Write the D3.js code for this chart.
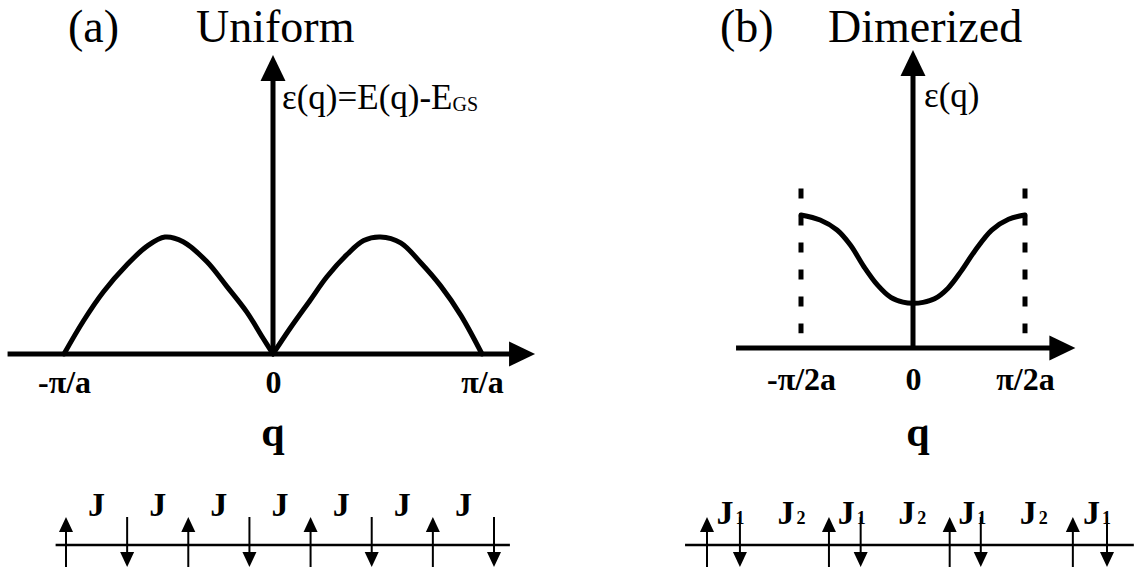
<!DOCTYPE html>
<html>
<head>
<meta charset="utf-8">
<script src="https://cdn.jsdelivr.net/npm/d3@7"></script>
<style>
  body { margin: 0; background: #fff; }
  svg { display: block; }
  text { font-family: "Liberation Serif", "Times New Roman", serif; fill: #000; }
</style>
</head>
<body>
<svg id="fig" width="1134" height="569"></svg>
<script>
// ---- (a) uniform chain: lower edge of the excitation spectrum, q in units of pi/a ----
const uniformQ = [-1, -0.908, -0.812, -0.70, -0.604, -0.517, -0.43, -0.317, -0.222, -0.126, -0.046, 0,
                  0.082, 0.178, 0.258, 0.354, 0.434, 0.514, 0.611, 0.707, 0.803, 0.899, 1];
const uniformE = [0, 0.28, 0.53, 0.76, 0.92, 1.0, 0.96, 0.79, 0.58, 0.36, 0.13, 0,
                  0.22, 0.46, 0.66, 0.85, 0.97, 1.0, 0.95, 0.78, 0.58, 0.33, 0];
const uniformTicks = [-1, 0, 1];
const uniformTickLabels = ["-\u03C0/a", "0", "\u03C0/a"];

// ---- (b) dimerized chain: gapped band, q in units of pi/2a ----
const dimerQ = [-1, -0.829, -0.678, -0.559, -0.438, -0.318, -0.198, -0.09, 0, 0.09, 0.192, 0.313, 0.432, 0.552, 0.703, 0.853, 1];
const dimerE = [1.0, 0.962, 0.887, 0.774, 0.611, 0.474, 0.38, 0.345, 0.336, 0.343, 0.37, 0.45, 0.58, 0.73, 0.887, 0.968, 1.0];
const dimerTicks = [-1, 0, 1];
const dimerTickLabels = ["-\u03C0/2a", "0", "\u03C0/2a"];
const zoneEdges = [-1, 1];

// ---- spin chains (site positions in units of a, spin +1 up / -1 down) ----
const uniformSites = [0, 1, 2, 3, 4, 5, 6, 7];
const uniformSpins = [1, -1, 1, -1, 1, -1, 1, -1];
const uniformBonds = ["", "", "", "", "", "", ""];
const dimerSites = [0, 0.54, 2.0, 2.52, 3.98, 4.49, 6.0, 6.56];
const dimerSpins = [1, -1, 1, -1, 1, -1, 1, -1];
const dimerBonds = ["1", "2", "1", "2", "1", "2", "1"];

const svg = d3.select("#fig");

// ---------- helpers ----------
function arrowHead(g, tipX, tipY, dir, len, half) {
  let p;
  if (dir === "up") p = [[tipX, tipY], [tipX - half, tipY + len], [tipX + half, tipY + len]];
  else if (dir === "down") p = [[tipX, tipY], [tipX - half, tipY - len], [tipX + half, tipY - len]];
  else p = [[tipX, tipY], [tipX - len, tipY - half], [tipX - len, tipY + half]];
  g.append("path").attr("d", d3.line()(p) + "Z").attr("fill", "#000");
}

// split a curve into smooth pieces at interior zeros (cusps)
function splitAtCusps(pts) {
  const pieces = [];
  let cur = [pts[0]];
  for (let i = 1; i < pts.length; i++) {
    cur.push(pts[i]);
    if (pts[i][1] === 0 && i < pts.length - 1) { pieces.push(cur); cur = [pts[i]]; }
  }
  if (cur.length > 1) pieces.push(cur);
  return pieces;
}

function dispersionPanel(opts) {
  const g = svg.append("g");
  const x = d3.scaleLinear().domain([-1, 1]).range(opts.xRange);
  const y = d3.scaleLinear().domain([0, 1]).range(opts.yRange);

  // horizontal axis with arrow
  const x0 = x(opts.xExtent[0]), x1 = x(opts.xExtent[1]);
  g.append("line").attr("x1", x0).attr("x2", x1 - 20).attr("y1", y(0)).attr("y2", y(0))
    .attr("stroke", "#000").attr("stroke-width", 5);
  arrowHead(g, x1, y(0), "right", 26, 12.5);

  // vertical axis with arrow
  const yTop = y(opts.yTop);
  g.append("line").attr("x1", x(0)).attr("x2", x(0)).attr("y1", y(0)).attr("y2", yTop + 20)
    .attr("stroke", "#000").attr("stroke-width", 5);
  arrowHead(g, x(0), yTop, "up", 26, 12.5);

  // zone boundary markers
  if (opts.edges) {
    g.selectAll("line.edge").data(opts.edges).join("line")
      .attr("class", "edge")
      .attr("x1", d => x(d)).attr("x2", d => x(d))
      .attr("y1", y(opts.edgeSpan[1])).attr("y2", y(opts.edgeSpan[0]))
      .attr("stroke", "#000").attr("stroke-width", 5)
      .attr("stroke-dasharray", "10 17");
  }

  // dispersion curve
  const pts = opts.q.map((q, i) => [q, opts.e[i]]);
  const line = d3.line().x(d => x(d[0])).y(d => y(d[1])).curve(d3.curveCatmullRom.alpha(0.5));
  g.selectAll("path.disp").data(splitAtCusps(pts)).join("path")
    .attr("class", "disp")
    .attr("d", line)
    .attr("fill", "none").attr("stroke", "#000").attr("stroke-width", 5)
    .attr("stroke-linejoin", "round").attr("stroke-linecap", "round");

  // tick labels
  const axis = d3.axisBottom(x).tickValues(opts.ticks)
    .tickFormat((d, i) => opts.tickLabels[i]).tickSize(0).tickPadding(opts.tickPad);
  const ag = g.append("g").attr("transform", `translate(0,${y(0)})`).call(axis);
  ag.select(".domain").remove();
  ag.selectAll("text")
    .attr("font-family", '"Liberation Serif", "Times New Roman", serif')
    .attr("font-size", 32).attr("font-weight", "bold").attr("fill", "#000");

  // q label
  g.append("text").attr("x", opts.qLabelX).attr("y", 446)
    .attr("text-anchor", "middle").attr("font-size", 42).attr("font-weight", "bold").text("q");

  // titles
  g.append("text").attr("x", opts.tagX).attr("y", 42).attr("font-size", 46).text(opts.tag);
  g.append("text").attr("x", opts.titleX).attr("y", 42).attr("font-size", 46).text(opts.title);

  return { g, x, y };
}

// ---------- (a) Uniform ----------
const A = dispersionPanel({
  xRange: [64, 482], yRange: [354, 237], xExtent: [-1.27, 1.254], yTop: 2.556,
  q: uniformQ, e: uniformE, ticks: uniformTicks, tickLabels: uniformTickLabels, tickPad: 16,
  qLabelX: 273, tag: "(a)", tagX: 68, title: "Uniform", titleX: 196
});
const yLabA = A.g.append("text").attr("x", 282).attr("y", 109).attr("font-size", 35);
yLabA.append("tspan").text("\u03B5(q)=E(q)-E");
yLabA.append("tspan").attr("font-size", 20).attr("dy", 2).text("GS");

// ---------- (b) Dimerized ----------
const B = dispersionPanel({
  xRange: [801, 1025], yRange: [348, 215], xExtent: [-1.58, 1.45], yTop: 2.24,
  q: dimerQ, e: dimerE, ticks: dimerTicks, tickLabels: dimerTickLabels, tickPad: 19,
  edges: zoneEdges, edgeSpan: [0.11, 1.2],
  qLabelX: 918, tag: "(b)", tagX: 720, title: "Dimerized", titleX: 828
});
B.g.append("text").attr("x", 924).attr("y", 107).attr("font-size", 35).text("\u03B5(q)");

// ---------- spin chains ----------
function chain(opts) {
  const g = svg.append("g");
  const x = d3.scaleLinear().domain([opts.sites[0], opts.sites[opts.sites.length - 1]]).range(opts.range);
  const ly = opts.lineY;
  g.append("line").attr("x1", x(opts.extent[0])).attr("x2", x(opts.extent[1]))
    .attr("y1", ly).attr("y2", ly).attr("stroke", "#000").attr("stroke-width", 2.5);

  opts.sites.forEach((s, i) => {
    const sx = x(s);
    const top = ly - 28, bot = ly + 22;
    if (opts.spins[i] > 0) {
      g.append("line").attr("x1", sx).attr("x2", sx).attr("y1", top + 12).attr("y2", bot)
        .attr("stroke", "#000").attr("stroke-width", 2);
      arrowHead(g, sx, top, "up", 15, 7);
    } else {
      g.append("line").attr("x1", sx).attr("x2", sx).attr("y1", top).attr("y2", bot - 12)
        .attr("stroke", "#000").attr("stroke-width", 2);
      arrowHead(g, sx, bot, "down", 15, 7);
    }
  });

  // exchange-bond labels at bond midpoints
  opts.bonds.forEach((b, i) => {
    const mx = (x(opts.sites[i]) + x(opts.sites[i + 1])) / 2;
    const t = g.append("text").attr("x", mx).attr("y", opts.labelY)
      .attr("font-size", 34).attr("font-weight", "bold");
    if (b) {
      t.attr("x", mx - 7);
      t.append("tspan").text("J");
      t.append("tspan").attr("font-size", 18).attr("dx", 2).text(b);
    } else {
      t.attr("text-anchor", "middle").text("J");
    }
  });
}

chain({ sites: uniformSites, spins: uniformSpins, bonds: uniformBonds,
        range: [66, 494], extent: [-0.17, 7.26], lineY: 545, labelY: 516 });
chain({ sites: dimerSites, spins: dimerSpins, bonds: dimerBonds,
        range: [707, 1107], extent: [-0.36, 7.0], lineY: 545, labelY: 524 });
</script>
</body>
</html>
